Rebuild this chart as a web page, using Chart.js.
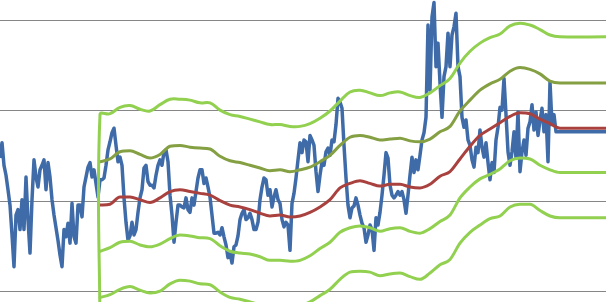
<!DOCTYPE html>
<html>
<head>
<meta charset="utf-8">
<script src="https://cdn.jsdelivr.net/npm/chart.js@4.4.1/dist/chart.umd.min.js"></script>
<style>
    html, body { margin: 0; padding: 0; background: #fff; }
    #wrap { width: 606px; height: 302px; }
</style>
</head>
<body>
<div id="wrap"><canvas id="bands-chart"></canvas></div>
<script>
// price, one value per day (day 0 .. 303)
const price = [
    14.8, 16.5, 14.0, 12.9, 11.3, 9.6, 6.3, 2.8, 8.5, 9.1, 6.9, 10.2, 6.9, 12.7, 8.0, 4.3, 10.2, 14.6, 12.7, 11.6,
    13.5, 14.0, 14.6, 11.3, 14.3, 12.7, 10.2, 8.5, 7.1, 5.7, 4.1, 2.8, 6.9, 6.1, 7.6, 5.4, 9.8, 6.1, 5.4, 9.6,
    9.6, 8.3, 11.6, 12.7, 13.8, 14.3, 12.7, 13.5, 12.0, 10.5, 12.4, 12.4, 12.6, 14.0, 15.7, 16.6, 17.6, 18.1, 16.2, 14.4,
    14.9, 14.0, 10.4, 7.7, 5.7, 6.2, 7.7, 6.3, 6.9, 8.8, 10.4, 11.3, 13.7, 14.0, 12.2, 11.8, 11.8, 11.5, 12.9, 14.0,
    14.6, 14.0, 15.5, 15.7, 14.4, 10.7, 8.5, 5.5, 7.7, 9.6, 9.6, 9.4, 9.3, 10.4, 9.1, 8.8, 10.4, 9.6, 11.1, 12.6,
    13.5, 13.5, 12.0, 12.6, 11.6, 10.5, 8.5, 6.5, 6.5, 6.6, 6.3, 7.1, 6.1, 5.2, 3.8, 4.3, 3.2, 5.0, 5.2, 6.2,
    8.0, 8.7, 9.1, 8.0, 8.2, 8.7, 8.0, 6.9, 6.9, 7.7, 10.2, 11.6, 12.6, 12.4, 10.7, 11.3, 9.4, 10.5, 11.3, 10.2,
    9.8, 8.0, 7.2, 7.7, 7.4, 4.6, 9.8, 10.9, 12.6, 14.6, 16.5, 15.4, 16.8, 16.6, 14.4, 17.3, 16.8, 16.2, 13.3, 11.1,
    12.9, 14.4, 14.0, 15.5, 15.9, 15.1, 16.8, 16.6, 18.5, 21.4, 21.0, 20.3, 16.2, 12.6, 9.6, 8.2, 9.3, 9.5, 10.4, 9.6,
    8.5, 7.6, 7.1, 5.5, 6.3, 7.4, 6.9, 4.6, 8.2, 7.4, 8.8, 10.7, 12.9, 15.4, 14.8, 11.8, 10.7, 10.4, 10.7, 11.1,
    10.7, 11.1, 10.2, 8.7, 10.7, 12.9, 14.9, 13.2, 14.6, 13.5, 15.1, 16.8, 17.6, 19.3, 29.5, 22.3, 30.4, 32.0, 24.9, 27.5,
    23.1, 19.3, 23.8, 24.9, 28.6, 24.9, 28.4, 29.3, 30.8, 24.9, 23.8, 19.3, 18.2, 19.0, 16.8, 16.2, 14.6, 13.8, 16.0, 15.4,
    17.9, 16.0, 14.9, 16.5, 14.3, 12.4, 14.3, 13.2, 16.8, 18.2, 20.4, 20.1, 23.6, 19.6, 15.5, 14.0, 15.5, 17.7, 14.8, 19.9,
    13.3, 15.5, 16.8, 15.1, 18.1, 18.8, 20.7, 17.9, 19.9, 17.3, 19.0, 20.3, 17.7, 19.6, 14.4, 23.2, 18.5, 19.6, 17.7,
    17.7, 17.7, 17.7, 17.7, 17.7, 17.7, 17.7, 17.7, 17.7, 17.7, 17.7, 17.7, 17.7, 17.7, 17.7, 17.7, 17.7, 17.7, 17.7, 17.7,
    17.7, 17.7, 17.7, 17.7, 17.7
];

// days where the band values were read
const bandDays = [50, 55, 60, 65, 70, 75, 80, 85, 90, 95, 100, 105, 110, 115, 120, 125, 130, 135, 140, 145,
    150, 155, 160, 165, 170, 175, 180, 185, 190, 195, 200, 205, 210, 215, 220, 225, 230, 235, 240, 245,
    250, 255, 260, 265, 270, 275, 280, 303];

const upperOuter = [19.6, 19.7, 20.4, 20.6, 20.2, 20.0, 20.7, 21.3, 21.3, 21.2, 20.9, 20.9, 20.1, 19.6, 19.4, 19.1,
    18.8, 18.5, 18.5, 18.3, 18.3, 18.6, 19.2, 20.0, 21.1, 22.1, 22.3, 22.0, 21.7, 22.0, 22.1, 21.7,
    21.5, 22.0, 22.8, 23.6, 25.3, 26.6, 27.5, 28.1, 28.5, 29.4, 29.7, 29.5, 29.0, 28.4, 28.2, 28.2];

const upperInner = [14.4, 14.7, 15.5, 15.6, 15.2, 14.8, 15.2, 16.1, 16.2, 16.0, 15.9, 15.8, 15.0, 14.5, 14.3, 14.0,
    13.7, 13.4, 13.5, 13.3, 13.5, 13.8, 14.4, 15.1, 16.2, 17.1, 17.3, 17.1, 16.8, 16.9, 17.0, 16.7,
    16.6, 16.9, 17.7, 18.3, 20.0, 21.2, 22.3, 23.0, 23.5, 24.4, 24.8, 24.6, 24.1, 23.3, 23.1, 23.1];

const middle = [9.6, 9.7, 10.5, 10.5, 10.2, 9.9, 10.4, 11.1, 11.3, 11.1, 10.9, 10.7, 10.1, 9.6, 9.4, 9.1,
    8.7, 8.4, 8.5, 8.3, 8.4, 8.8, 9.4, 10.2, 11.5, 12.0, 12.3, 12.0, 11.7, 11.9, 11.9, 11.6,
    11.5, 11.9, 12.8, 13.3, 14.7, 16.1, 17.3, 18.0, 18.7, 19.4, 19.8, 19.7, 19.1, 18.6, 18.1, 18.1];

const lowerInner = [4.5, 4.9, 5.5, 5.6, 5.2, 5.0, 5.3, 5.9, 6.3, 6.2, 6.0, 5.9, 5.1, 4.5, 4.3, 4.2,
    3.9, 3.5, 3.5, 3.4, 3.5, 4.0, 4.8, 5.5, 6.6, 7.1, 7.3, 7.1, 6.7, 7.0, 7.1, 6.7,
    6.5, 7.0, 7.8, 8.5, 10.4, 11.6, 12.5, 13.0, 13.6, 14.5, 14.8, 14.7, 14.0, 13.5, 13.2, 13.2];

const lowerOuter = [-0.6, -0.3, 0.3, 0.6, 0.2, -0.1, 0.1, 0.9, 1.3, 1.2, 0.9, 0.8, 0.0, -0.6, -0.8, -1.1,
    -1.4, -1.7, -1.8, -1.8, -1.5, -1.1, -0.4, 0.3, 1.4, 2.2, 2.3, 2.2, 1.8, 2.0, 2.1, 1.7,
    1.4, 2.1, 3.0, 3.6, 5.4, 6.6, 7.4, 8.1, 8.4, 9.4, 9.7, 9.7, 9.0, 8.4, 8.2, 8.2];

const gridValues = [0, 10, 20, 30];

function toPoints(values) {
    return values.map((v, i) => ({ x: bandDays[i], y: v }));
}

// the outer band drops from below the axis on its first day
const upperOuterPoints = [{ x: bandDays[0], y: -5 }].concat(toPoints(upperOuter));

const bandStyle = {
    pointRadius: 0,
    borderWidth: 3,
    tension: 0.4,
    cubicInterpolationMode: 'monotone',
    borderJoinStyle: 'round',
    borderCapStyle: 'round',
    fill: false
};

const config = {
    type: 'line',
    data: {
        datasets: [
            Object.assign({ label: 'Upper 2', data: upperOuterPoints, borderColor: '#92D050', order: 1 }, bandStyle, { cubicInterpolationMode: 'default' }),
            Object.assign({ label: 'Upper 1', data: toPoints(upperInner), borderColor: '#84A043', order: 2 }, bandStyle),
            Object.assign({ label: 'Average', data: toPoints(middle), borderColor: '#A9413F', order: 3 }, bandStyle),
            Object.assign({ label: 'Lower 1', data: toPoints(lowerInner), borderColor: '#92D050', order: 1 }, bandStyle),
            Object.assign({ label: 'Lower 2', data: toPoints(lowerOuter), borderColor: '#92D050', order: 1 }, bandStyle),
            {
                label: 'Price',
                data: price.map((v, i) => ({ x: i, y: v })),
                borderColor: '#3F6CA8',
                borderWidth: 3.5,
                pointRadius: 0,
                tension: 0,
                borderJoinStyle: 'round',
                order: 5
            }
        ]
    },
    options: {
        responsive: true,
        maintainAspectRatio: false,
        animation: false,
        events: [],
        layout: { padding: 0 },
        plugins: {
            legend: { display: false },
            tooltip: { enabled: false }
        },
        scales: {
            x: {
                type: 'linear',
                min: 0,
                max: 303,
                display: false
            },
            y: {
                min: -1.105,
                max: 32.265,
                afterBuildTicks: axis => {
                    axis.ticks = gridValues.map(v => ({ value: v }));
                },
                ticks: { display: false },
                border: { display: false },
                grid: {
                    color: '#868686',
                    lineWidth: 1,
                    drawTicks: false
                }
            }
        }
    }
};

const myChart = new Chart(document.getElementById('bands-chart'), config);
</script>
</body>
</html>
